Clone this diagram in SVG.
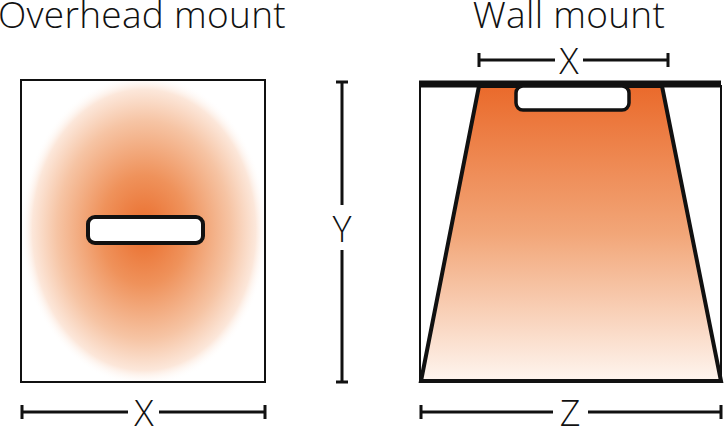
<svg xmlns="http://www.w3.org/2000/svg" width="724" height="428" viewBox="0 0 724 428">
<defs>
<radialGradient id="glow" cx="144" cy="230" r="1" gradientUnits="userSpaceOnUse" gradientTransform="translate(144 230) scale(124 156) translate(-144 -230)">
<stop offset="0" stop-color="#EA6C2B"/>
<stop offset="0.35" stop-color="#EF925B"/>
<stop offset="0.7" stop-color="#F6C4A4"/>
<stop offset="0.9" stop-color="#FCE7DA"/>
<stop offset="1" stop-color="#FFFFFF" stop-opacity="0"/>
</radialGradient>
<linearGradient id="beam" x1="0" y1="86" x2="0" y2="381" gradientUnits="userSpaceOnUse">
<stop offset="0" stop-color="#EA6A2B"/>
<stop offset="0.5" stop-color="#F2A678"/>
<stop offset="1" stop-color="#FEF5EF"/>
</linearGradient>
<clipPath id="leftclip"><rect x="21" y="80" width="244" height="302"/></clipPath>
</defs>
<style>
.t{font-family:"Open Sans","Liberation Sans",sans-serif;font-weight:300;fill:#111;}
.h{font-size:37px;letter-spacing:0.3px;}
.dim{stroke:#111;stroke-width:3;fill:none;}
.box{stroke:#111;stroke-width:2;fill:none;}
</style>
<text class="t h" x="142" y="28" text-anchor="middle">Overhead mount</text>
<text class="t h" x="569" y="28" text-anchor="middle">Wall mount</text>
<g id="overhead">
<rect x="21" y="80" width="244" height="302" fill="#fff"/>
<ellipse cx="144" cy="230" rx="124" ry="156" fill="url(#glow)" clip-path="url(#leftclip)"/>
<rect class="box" x="21" y="80" width="244" height="302"/>
<rect x="88" y="217" width="115" height="26" rx="7" fill="#fff" stroke="#111" stroke-width="4"/>
</g>
<g id="wall">
<rect class="box" x="420" y="86" width="301" height="295"/>
<polygon points="479,86 662,86 721,381 421,381" fill="url(#beam)" stroke="#111" stroke-width="4" stroke-linejoin="miter"/>
<line x1="419" y1="84" x2="721" y2="84" stroke="#111" stroke-width="7"/>
<rect x="516" y="86" width="113" height="24" rx="7" fill="#fff" stroke="#111" stroke-width="3.5"/>
</g>
<g id="connectors">
<path class="dim" d="M22 405 V419 M22 412 H128 M159 412 H265 M265 405 V419"/>
<path class="dim" d="M421 405 V419 M421 412 H553 M588 412 H721 M721 405 V419"/>
<path class="dim" d="M479 53 V67 M479 60 H555 M583 60 H668 M668 53 V67"/>
<path class="dim" d="M336 82 H348 M342 82 V205 M342 250 V382 M336 382 H348"/>
</g>
<text class="t" x="144" y="426" font-size="36" text-anchor="middle">X</text>
<text class="t" x="570" y="426" font-size="36" text-anchor="middle">Z</text>
<text class="t" x="569" y="74" font-size="36" text-anchor="middle">X</text>
<text class="t" x="342" y="242" font-size="36" text-anchor="middle">Y</text>
</svg>
